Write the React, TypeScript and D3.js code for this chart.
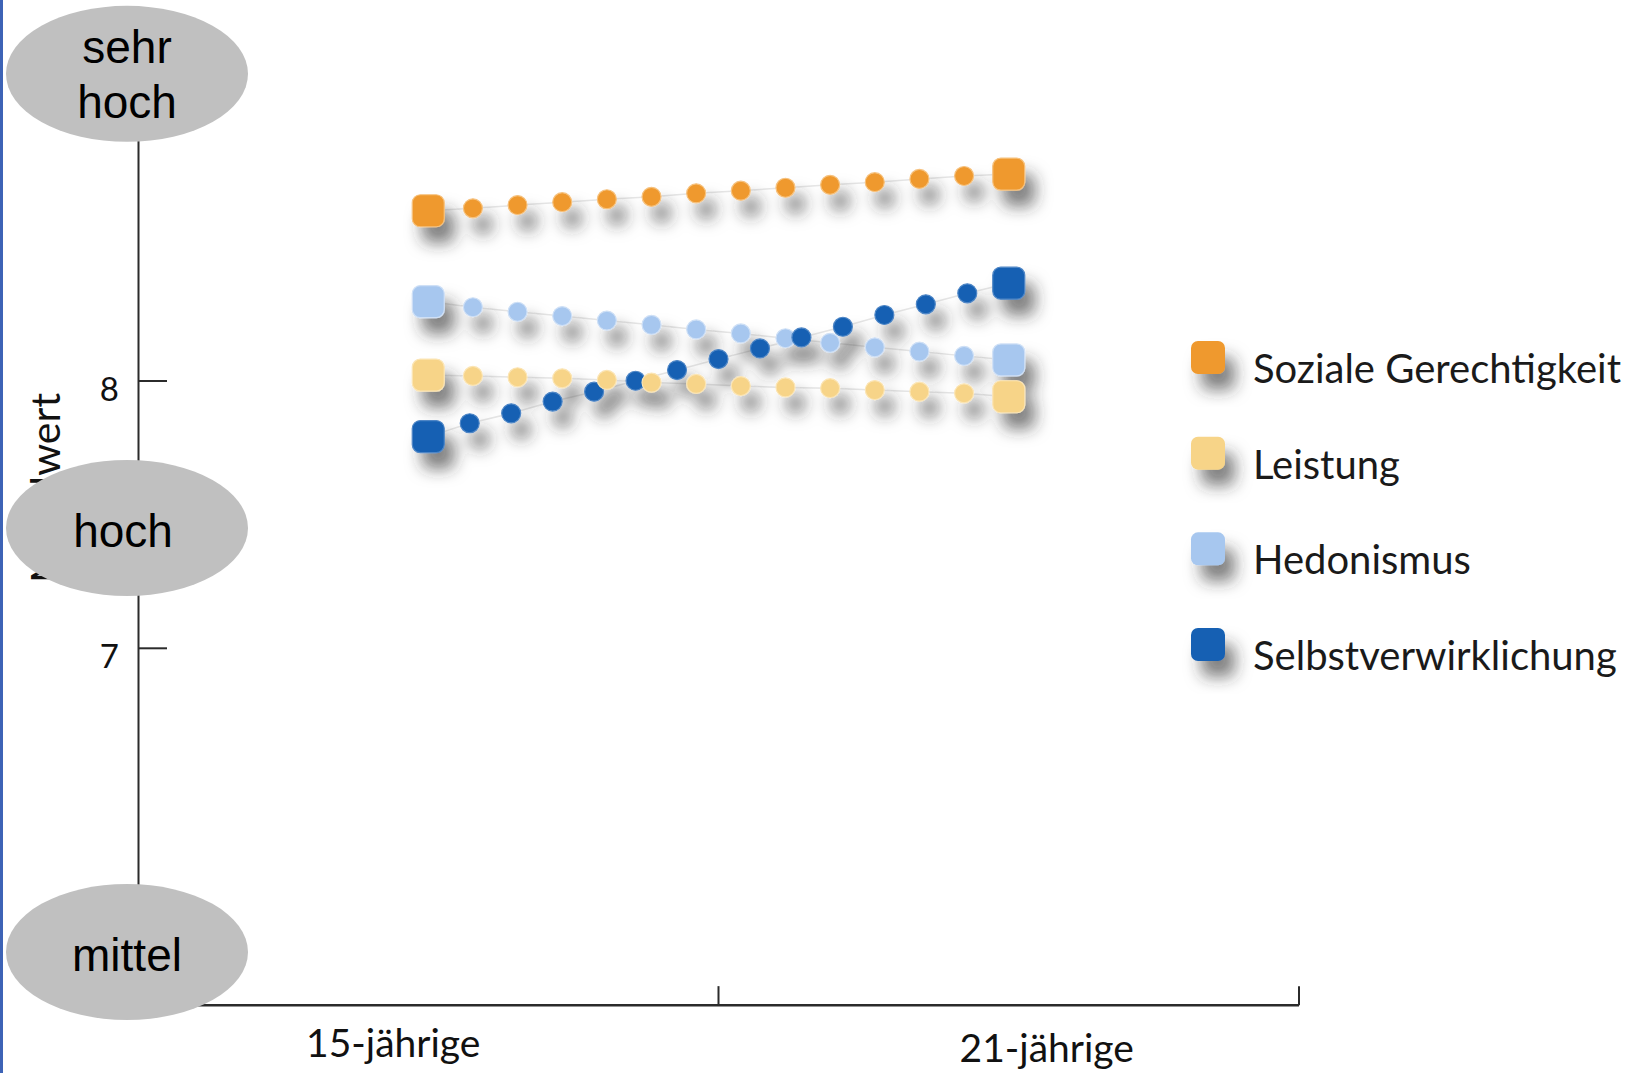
import React from "react";
import * as d3 from "d3";

const WIDTH = 1645;
const HEIGHT = 1073;

// categories on the x axis
const ageGroups = ["15-jährige", "21-jährige"];

// legend / series names and colours
const seriesNames = [
  "Soziale Gerechtigkeit",
  "Leistung",
  "Hedonismus",
  "Selbstverwirklichung",
];
const seriesColors = ["#ef992d", "#f7d488", "#a7c7ef", "#1461b3"];
const seriesHalo = ["#f6c27f", "#fbe5b5", "#cfe0f6", "#4f86c6"];

// values, from 15-jährige to 21-jährige
const sozialeGerechtigkeit = [
  8.637, 8.646, 8.658, 8.669, 8.68, 8.689, 8.702, 8.712, 8.723, 8.734, 8.744,
  8.756, 8.767, 8.774,
];
const leistung = [
  8.022, 8.019, 8.014, 8.01, 8.004, 7.994, 7.989, 7.981, 7.976, 7.973, 7.966,
  7.96, 7.954, 7.941,
];
const hedonismus = [
  8.297, 8.276, 8.259, 8.243, 8.226, 8.21, 8.193, 8.178, 8.16, 8.143, 8.126,
  8.11, 8.094, 8.079,
];
const selbstverwirklichung = [
  7.792, 7.842, 7.879, 7.923, 7.96, 8.001, 8.041, 8.082, 8.122, 8.163, 8.203,
  8.247, 8.287, 8.328, 8.366,
];

const yTicks = [6, 7, 8, 9];
const yTickLabels = ["", "7", "8", ""];
const axisBase = 5.665;

// grey level bubbles on the y axis
const levelLines = [["sehr", "hoch"], ["hoch"], ["mittel"]];
const levelValues = [9.149, 7.45, 5.864];

const seriesValues = [sozialeGerechtigkeit, leistung, hedonismus, selbstverwirklichung];
// drawing order: Hedonismus, Selbstverwirklichung, Leistung, Soziale Gerechtigkeit
const drawOrder = [2, 3, 1, 0];

const LABEL_FONT = "Lato, 'Open Sans', sans-serif";
const BUBBLE_FONT = "'Liberation Sans', Arial, sans-serif";
const SQUARE = 32;
const DOT_R = 9.5;

export default function App() {
  const yScale = d3.scaleLinear().domain([7, 8]).range([648.3, 381]);
  const xBand = d3.scaleBand().domain(ageGroups).range([138, 1299]).padding(0);
  const bandCenter = (g: string) => (xBand(g) as number) + xBand.bandwidth() / 2;
  const axisX = 138.5;
  const axisY = yScale(axisBase);

  const legendY = d3
    .scalePoint<string>()
    .domain(seriesNames)
    .range([341, 628]);

  const series = seriesValues.map((vals, i) => {
    const step = d3
      .scaleLinear()
      .domain([0, vals.length - 1])
      .range([bandCenter(ageGroups[0]), bandCenter(ageGroups[1])]);
    const pts = vals.map((v, k) => [step(k), yScale(v)] as [number, number]);
    return { name: seriesNames[i], color: seriesColors[i], halo: seriesHalo[i], pts };
  });

  const line = d3.line();

  return (
    <svg
      width={WIDTH}
      height={HEIGHT}
      style={{ position: "absolute", left: 0, top: 0, background: "#fff" }}
    >
      <defs>
        <filter id="shadow" x="-50%" y="-50%" width="250%" height="250%">
          <feDropShadow dx="10" dy="16" stdDeviation="8" floodColor="#2a2a2a" floodOpacity="0.6" />
        </filter>
      </defs>
      <rect x={0} y={0} width={WIDTH} height={HEIGHT} fill="#fff" />
      <rect x={0} y={0} width={3} height={HEIGHT} fill="#3d63b6" />

      {/* y axis */}
      <line x1={axisX} x2={axisX} y1={100} y2={axisY} stroke="#2b2b2b" strokeWidth={2} />
      {yTicks.map((t, i) => (
        <g key={t}>
          <line x1={axisX} x2={167} y1={yScale(t)} y2={yScale(t)} stroke="#2b2b2b" strokeWidth={2} />
          <text
            x={119}
            y={yScale(t) + 20}
            textAnchor="end"
            fontFamily={LABEL_FONT}
            fontSize={33}
            fill="#111"
          >
            {yTickLabels[i]}
          </text>
        </g>
      ))}
      <text
        transform={`translate(60, ${yScale(7.6)}) rotate(-90)`}
        textAnchor="middle"
        fontFamily={LABEL_FONT}
        fontSize={41}
        fill="#111"
      >
        Mittelwert
      </text>

      {/* x axis */}
      <line x1={axisX} x2={1299} y1={axisY} y2={axisY} stroke="#2b2b2b" strokeWidth={2.5} />
      {ageGroups.map((g) => {
        const xr = (xBand(g) as number) + xBand.bandwidth();
        return (
          <line key={g} x1={xr} x2={xr} y1={axisY} y2={axisY - 19} stroke="#2b2b2b" strokeWidth={2} />
        );
      })}
      {ageGroups.map((g, i) => (
        <text
          key={g}
          x={bandCenter(g) + (i === 0 ? -35 : 38)}
          y={axisY + (i === 0 ? 52 : 57)}
          textAnchor="middle"
          fontFamily={LABEL_FONT}
          fontSize={39}
          fill="#111"
        >
          {g}
        </text>
      ))}

      {/* faint connecting lines */}
      {series.map((s) => (
        <path key={s.name} d={line(s.pts) || ""} fill="none" stroke="#e6e6e6" strokeWidth={1.5} />
      ))}

      {/* markers */}
      <g filter="url(#shadow)">
        {drawOrder.map((i) => {
          const s = series[i];
          return (
            <g key={s.name}>
              {s.pts.map(([x, y], k) =>
                k === 0 || k === s.pts.length - 1 ? (
                  <rect
                    key={k}
                    x={x - SQUARE / 2}
                    y={y - SQUARE / 2}
                    width={SQUARE}
                    height={SQUARE}
                    rx={8}
                    fill={s.color}
                    stroke={s.halo}
                    strokeWidth={1.2}
                  />
                ) : (
                  <circle key={k} cx={x} cy={y} r={DOT_R} fill={s.color} stroke={s.halo} strokeWidth={1.2} />
                )
              )}
            </g>
          );
        })}
      </g>

      {/* legend */}
      {seriesNames.map((n, i) => {
        const top = legendY(n) as number;
        return (
          <g key={n}>
            <rect
              x={1191}
              y={top}
              width={34}
              height={33}
              rx={7}
              fill={seriesColors[i]}
              filter="url(#shadow)"
            />
            <text x={1253} y={top + 42} fontFamily={LABEL_FONT} fontSize={40} fill="#1a1a1a">
              {n}
            </text>
          </g>
        );
      })}

      {/* level bubbles */}
      {levelLines.map((lines, i) => {
        const cy = yScale(levelValues[i]);
        const first = lines.length === 2 ? -11 : 19;
        return (
          <g key={i}>
            <ellipse cx={127} cy={cy} rx={121} ry={68} fill="#c0c0c0" />
            {lines.map((t, j) => (
              <text
                key={j}
                x={i === 1 ? 123 : 127}
                y={cy + first + j * 55}
                textAnchor="middle"
                fontFamily={BUBBLE_FONT}
                fontSize={46}
                fill="#000"
              >
                {t}
              </text>
            ))}
          </g>
        );
      })}
    </svg>
  );
}
